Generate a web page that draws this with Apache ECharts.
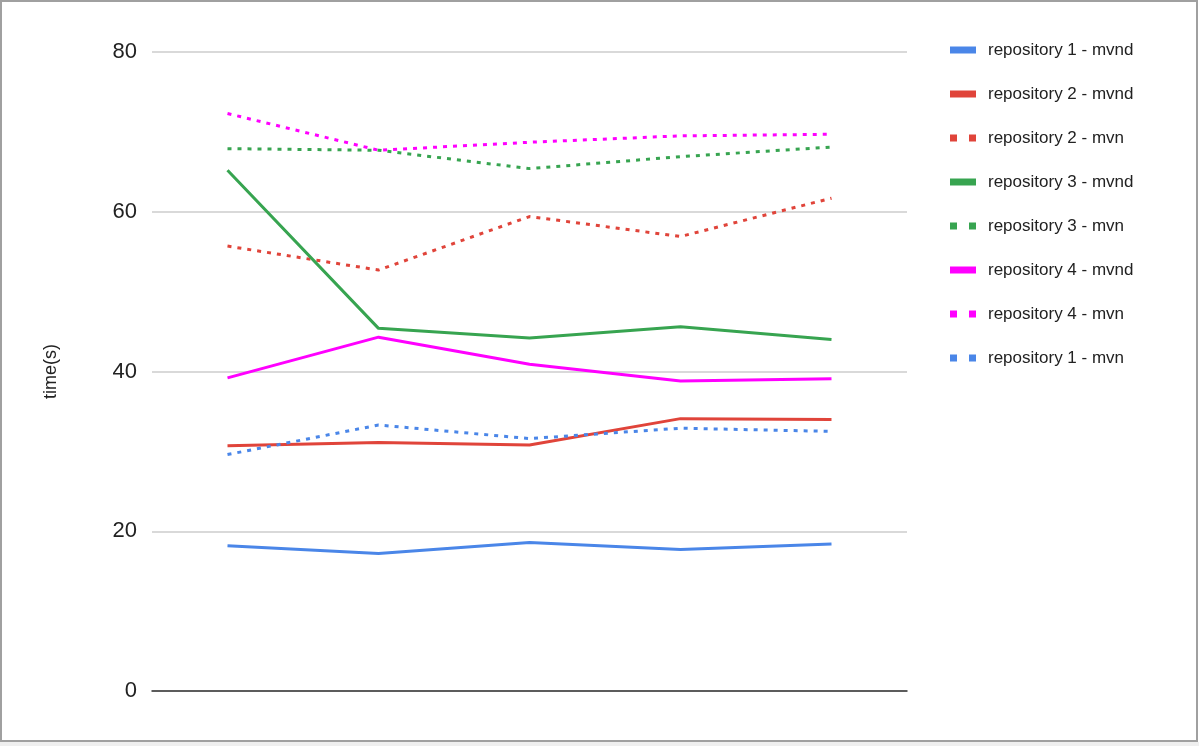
<!DOCTYPE html>
<html>
<head>
<meta charset="utf-8">
<script src="https://cdn.jsdelivr.net/npm/echarts@6/dist/echarts.min.js"></script>
<style>
html,body{margin:0;padding:0;background:#fff;}
#c{width:1199px;height:746px;}
</style>
</head>
<body>
<div id="c"></div>
<script>
var categories = ['1', '2', '3', '4', '5'];
var yTicks = { min: 0, max: 80, interval: 20 };

var repo1Mvnd = [18.2, 17.2, 18.6, 17.7, 18.4];
var repo2Mvnd = [30.7, 31.1, 30.8, 34.1, 34.0];
var repo2Mvn  = [55.7, 52.7, 59.4, 56.9, 61.7];
var repo3Mvnd = [65.2, 45.4, 44.2, 45.6, 44.0];
var repo3Mvn  = [67.9, 67.7, 65.4, 66.9, 68.1];
var repo4Mvnd = [39.2, 44.3, 40.9, 38.8, 39.1];
var repo4Mvn  = [72.3, 67.7, 68.7, 69.5, 69.7];
var repo1Mvn  = [29.6, 33.3, 31.6, 32.9, 32.5];

var seriesDefs = [
  { name: 'repository 1 - mvnd', data: repo1Mvnd, color: '#4a86e8', dotted: false },
  { name: 'repository 2 - mvnd', data: repo2Mvnd, color: '#e0443a', dotted: false },
  { name: 'repository 2 - mvn',  data: repo2Mvn,  color: '#e0443a', dotted: true },
  { name: 'repository 3 - mvnd', data: repo3Mvnd, color: '#37a450', dotted: false },
  { name: 'repository 3 - mvn',  data: repo3Mvn,  color: '#37a450', dotted: true },
  { name: 'repository 4 - mvnd', data: repo4Mvnd, color: '#ff00ff', dotted: false },
  { name: 'repository 4 - mvn',  data: repo4Mvn,  color: '#ff00ff', dotted: true },
  { name: 'repository 1 - mvn',  data: repo1Mvn,  color: '#4a86e8', dotted: true }
];

var solidIcon = 'path://M0,0h26v7h-26z';
var dottedIcon = 'path://M0,0h7v7h-7z M19,0h7v7h-7z';

var chart = echarts.init(document.getElementById('c'));
chart.setOption({
  animation: false,
  backgroundColor: '#fff',
  textStyle: { fontFamily: 'Liberation Sans, Arial, sans-serif' },
  graphic: [
    { type: 'rect', shape: { x: 0, y: 742, width: 1199, height: 4 }, style: { fill: '#efefef' }, silent: true },
    { type: 'rect', shape: { x: 1, y: 1, width: 1196, height: 740 }, style: { fill: 'none', stroke: '#a0a0a0', lineWidth: 2 }, silent: true }
  ],
  grid: { left: 152, right: 292, top: 52, bottom: 55, containLabel: false },
  legend: {
    orient: 'vertical',
    left: 945,
    top: 35,
    itemWidth: 26,
    itemHeight: 7,
    itemGap: 24,
    textStyle: { fontSize: 17, color: '#222', lineHeight: 20, padding: [0, 0, 0, 7], fontFamily: 'Liberation Sans, Arial, sans-serif' },
    data: seriesDefs.map(function (s) { return { name: s.name, icon: s.dotted ? dottedIcon : solidIcon }; })
  },
  xAxis: {
    type: 'category',
    data: categories,
    boundaryGap: true,
    axisLine: { show: true, lineStyle: { color: '#333', width: 1.5 } },
    axisTick: { show: false },
    axisLabel: { show: false },
    splitLine: { show: false }
  },
  yAxis: {
    type: 'value',
    min: yTicks.min,
    max: yTicks.max,
    interval: yTicks.interval,
    name: 'time(s)',
    nameLocation: 'middle',
    nameGap: 92,
    nameTextStyle: { fontSize: 18, color: '#222', fontFamily: 'Liberation Sans, Arial, sans-serif' },
    axisLine: { show: false },
    axisTick: { show: false },
    axisLabel: { fontSize: 22, color: '#222', margin: 15, fontFamily: 'Liberation Sans, Arial, sans-serif' },
    splitLine: { show: true, lineStyle: { color: '#cccccc', width: 1.5 } }
  },
  series: seriesDefs.map(function (s) {
    return {
      name: s.name,
      type: 'line',
      data: s.data,
      symbol: 'none',
      showSymbol: false,
      color: s.color,
      itemStyle: { color: s.color },
      lineStyle: { color: s.color, width: 3, type: s.dotted ? [4, 6] : 'solid' }
    };
  })
});
</script>
</body>
</html>
